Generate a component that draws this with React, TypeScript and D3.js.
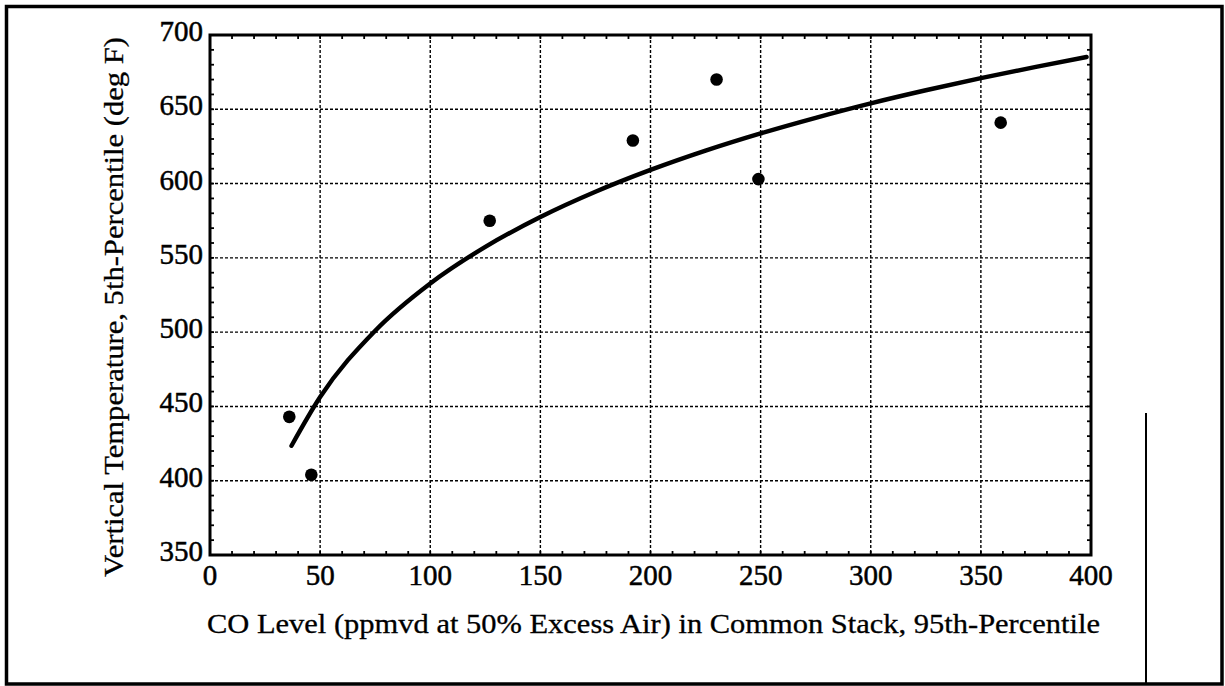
import React from "react";
import * as d3 from "d3";

// Observed data points (CO level, temperature)
const pointsX = [36, 46, 127, 192, 230, 249, 359];
const pointsY = [443, 404, 575, 629, 670, 603, 641];

// Fitted curve
const curveX = [37, 50, 75, 100, 125, 150, 175, 200, 225, 250, 275, 300, 325, 350, 375, 398];
const curveY = [423.5, 456.3, 501, 532.8, 557.4, 577.5, 594.5, 609.2, 622.2, 633.8, 644.3, 654, 662.8, 671, 678.6, 685.2];

const xTickLabels = [0, 50, 100, 150, 200, 250, 300, 350, 400];
const yTickLabels = [350, 400, 450, 500, 550, 600, 650, 700];
const xMinorTicks = d3.range(0, 401, 10);
const yMinorTicks = d3.range(350, 701, 10);

const xTitle = "CO Level (ppmvd at 50% Excess Air) in Common Stack, 95th-Percentile";
const yTitle = "Vertical Temperature, 5th-Percentile (deg F)";

const W = 1225;
const H = 686;
const L = 210, R = 1091, T = 35, B = 555;
const FONT = "Liberation Serif, Times New Roman, Times, serif";

export default function App() {
  const x = d3.scaleLinear().domain([0, 400]).range([L, R]);
  const y = d3.scaleLinear().domain([350, 700]).range([B, T]);
  const line = d3
    .line<number>()
    .x((_, i) => x(curveX[i]))
    .y((d) => y(d))
    .curve(d3.curveMonotoneX);
  const tk = 4;
  const txt = { fontFamily: FONT, fill: "#000", stroke: "#000", strokeWidth: 0.5 } as React.CSSProperties;
  return (
    <svg
      width={W}
      height={H}
      style={{ position: "absolute", left: 0, top: 0, background: "#fff" }}
    >
      <rect x={0} y={0} width={W} height={H} fill="#fff" />
      {/* outer frame */}
      <rect x={6.5} y={6.5} width={1215.5} height={677.5} fill="none" stroke="#000" strokeWidth={3.5} />
      <line x1={1146} x2={1146} y1={413} y2={684} stroke="#000" strokeWidth={2} />

      {/* grid */}
      {xTickLabels
        .filter((v) => v > 0 && v < 400)
        .map((v) => (
          <line key={"gx" + v} x1={x(v)} x2={x(v)} y1={T} y2={B} stroke="#000" strokeWidth={1.4} strokeDasharray="3,2" />
        ))}
      {yTickLabels
        .filter((v) => v > 350 && v < 700)
        .map((v) => (
          <line key={"gy" + v} x1={L} x2={R} y1={y(v)} y2={y(v)} stroke="#000" strokeWidth={1.4} strokeDasharray="3,2" />
        ))}

      {/* minor ticks on four sides */}
      {xMinorTicks.map((v) => (
        <g key={"tx" + v}>
          <line x1={x(v)} x2={x(v)} y1={B} y2={B - tk} stroke="#000" strokeWidth={1.8} />
          <line x1={x(v)} x2={x(v)} y1={T} y2={T + tk} stroke="#000" strokeWidth={1.8} />
        </g>
      ))}
      {yMinorTicks.map((v) => (
        <g key={"ty" + v}>
          <line x1={L} x2={L + tk} y1={y(v)} y2={y(v)} stroke="#000" strokeWidth={1.8} />
          <line x1={R} x2={R - tk} y1={y(v)} y2={y(v)} stroke="#000" strokeWidth={1.8} />
        </g>
      ))}

      {/* plot frame */}
      <rect x={L} y={T} width={R - L} height={B - T} fill="none" stroke="#000" strokeWidth={3} />

      {/* curve */}
      <path d={line(curveY) || ""} fill="none" stroke="#000" strokeWidth={4.4} strokeLinecap="round" strokeLinejoin="round" />

      {/* points */}
      {pointsX.map((v, i) => (
        <circle key={"p" + i} cx={x(v)} cy={y(pointsY[i])} r={6.3} fill="#000" />
      ))}

      {/* tick labels */}
      {xTickLabels.map((v) => (
        <text key={"lx" + v} x={x(v)} y={585} textAnchor="middle" fontSize={29} style={txt}>
          {v}
        </text>
      ))}
      {yTickLabels.map((v) => (
        <text key={"ly" + v} x={203} y={y(v) + 6} textAnchor="end" fontSize={29} style={txt}>
          {v}
        </text>
      ))}

      {/* axis titles */}
      <text x={207} y={633} fontSize={27} style={{ ...txt, strokeWidth: 0.3 }} textLength={893} lengthAdjust="spacingAndGlyphs">
        {xTitle}
      </text>
      <text
        transform={`translate(123,577) rotate(-90)`}
        x={0}
        y={0}
        fontSize={27}
        style={{ ...txt, strokeWidth: 0.3 }}
        textLength={540}
        lengthAdjust="spacingAndGlyphs"
      >
        {yTitle}
      </text>
    </svg>
  );
}
